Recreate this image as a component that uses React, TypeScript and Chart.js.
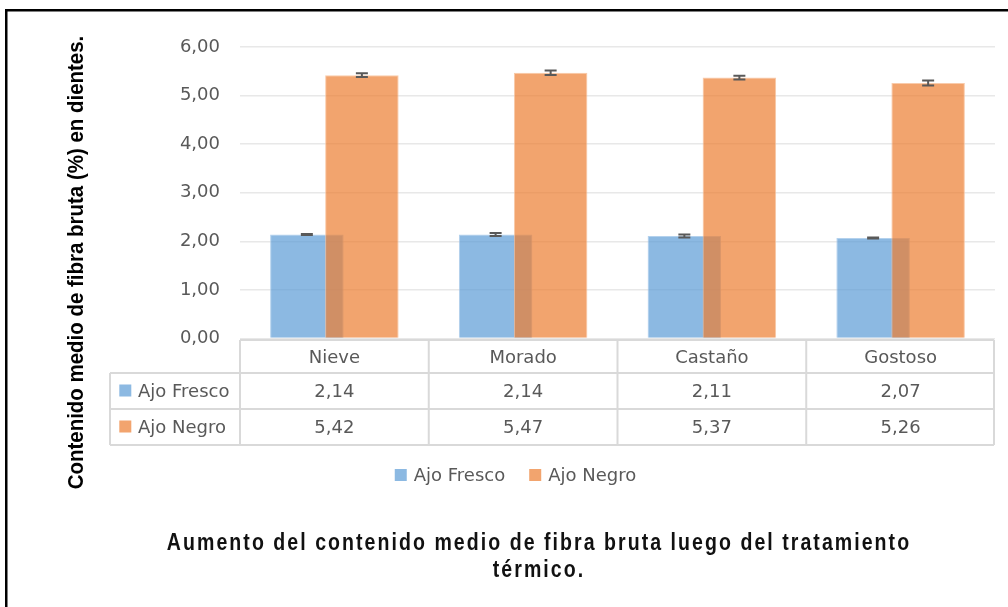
import React, { useEffect, useRef } from 'react';
import { Chart, registerables } from 'chart.js';

Chart.register(...registerables);

// ---------- data ----------
const categories = ['Nieve', 'Morado', 'Castaño', 'Gostoso'];
const seriesNames = ['Ajo Fresco', 'Ajo Negro'];
const ajoFresco = [2.14, 2.14, 2.11, 2.07];
const ajoNegro = [5.42, 5.47, 5.37, 5.26];
const ajoFrescoErr = [0.01, 0.03, 0.03, 0.01];
const ajoNegroErr = [0.04, 0.045, 0.04, 0.05];
const yMin = 0;
const yMax = 6;
const yStep = 1;
const yAxisTitle = 'Contenido medio de fibra bruta (%) en dientes.';
const chartTitle = ['Aumento del contenido medio de fibra bruta luego del tratamiento', 'térmico.'];

// ---------- styles ----------
const seriesFill = ['rgba(91,155,213,0.7)', 'rgba(237,125,49,0.7)'];
const seriesBorder = ['rgba(160,197,232,0.8)', 'rgba(247,190,150,0.8)'];
const textColor = '#595959';
const gridColor = '#E8E8E8';
const tableLine = '#D9D9D9';
const bodyFont = '18px "DejaVu Sans"';

const fmt = (v: number) => v.toFixed(2).replace('.', ',');

const drawOrderPlugin = {
  id: 'drawOrder',
  beforeDatasetsDraw(chart: any) {
    const meta = chart.getDatasetMeta(0);
    if (meta && !meta.hidden) meta.controller.draw();
  },
  beforeDatasetDraw(_chart: any, args: any) {
    if (args.index === 0) return false;
    return true;
  },
};

const backgroundPlugin = {
  id: 'bgFrame',
  beforeDraw(chart: any) {
    const { ctx, width, height } = chart;
    ctx.save();
    ctx.fillStyle = '#ffffff';
    ctx.fillRect(0, 0, width, height);
    ctx.fillStyle = '#000000';
    ctx.fillRect(5, 9, 2.5, height - 9);
    ctx.fillRect(5, 9, width - 5, 2.5);
    ctx.restore();
  },
};

const errorBarPlugin = {
  id: 'errorBars',
  afterDatasetsDraw(chart: any) {
    const { ctx } = chart;
    const y = chart.scales.y;
    const errs = [ajoFrescoErr, ajoNegroErr];
    ctx.save();
    ctx.strokeStyle = textColor;
    ctx.lineWidth = 2;
    chart.data.datasets.forEach((ds: any, di: number) => {
      const meta = chart.getDatasetMeta(di);
      meta.data.forEach((bar: any, i: number) => {
        const v = ds.data[i];
        const e = errs[di][i];
        const yt = y.getPixelForValue(v + e);
        const yb = y.getPixelForValue(v - e);
        const x = bar.x;
        ctx.beginPath();
        ctx.moveTo(x, yt);
        ctx.lineTo(x, yb);
        ctx.moveTo(x - 6, yt);
        ctx.lineTo(x + 6, yt);
        ctx.moveTo(x - 6, yb);
        ctx.lineTo(x + 6, yb);
        ctx.stroke();
      });
    });
    ctx.restore();
  },
};

const tablePlugin = {
  id: 'dataTable',
  afterDraw(chart: any) {
    const { ctx, chartArea: ca } = chart;
    const xs = chart.scales.x;
    const n = categories.length;
    const colW = (ca.right - ca.left) / n;
    const top = ca.bottom + 1.5;
    const r1 = top + 33;
    const r2 = r1 + 36;
    const r3 = r2 + 36;
    const leftCol = ca.left - 130;
    const right = ca.right - 1;

    ctx.save();
    ctx.strokeStyle = tableLine;
    ctx.lineWidth = 2;
    ctx.beginPath();
    ctx.moveTo(ca.left, top);
    ctx.lineTo(right, top);
    [r1, r2, r3].forEach((yy) => {
      ctx.moveTo(leftCol, yy);
      ctx.lineTo(right, yy);
    });
    ctx.moveTo(leftCol, r1);
    ctx.lineTo(leftCol, r3);
    for (let i = 0; i <= n; i++) {
      const xx = i === n ? right : ca.left + colW * i;
      ctx.moveTo(xx, top);
      ctx.lineTo(xx, r3);
    }
    ctx.stroke();

    ctx.font = bodyFont;
    ctx.fillStyle = textColor;
    ctx.textAlign = 'center';
    ctx.textBaseline = 'alphabetic';
    categories.forEach((c, i) => {
      const cx = xs.getPixelForValue(i);
      ctx.fillText(c, cx, top + 22.7);
      ctx.fillText(fmt(ajoFresco[i]), cx, r1 + 23.5);
      ctx.fillText(fmt(ajoNegro[i]), cx, r2 + 24);
    });

    ctx.textAlign = 'left';
    [r1, r2].forEach((ry, si) => {
      ctx.fillStyle = seriesFill[si];
      ctx.fillRect(leftCol + 9.3, ry + 11.5, 12, 12);
      ctx.fillStyle = textColor;
      ctx.fillText(seriesNames[si], leftCol + 28, ry + (si === 0 ? 23.5 : 24));
    });

    // bottom legend
    const gapBoxText = 7;
    const gapItems = 24;
    const box = 12;
    const widths = seriesNames.map((s) => box + gapBoxText + ctx.measureText(s).width);
    const total = widths[0] + gapItems + widths[1];
    let lx = 515.5 - total / 2;
    const ly = 480.5;
    seriesNames.forEach((s, si) => {
      ctx.fillStyle = seriesFill[si];
      ctx.fillRect(lx, ly - 11.5, box, box);
      ctx.fillStyle = textColor;
      ctx.fillText(s, lx + box + gapBoxText, ly);
      lx += widths[si] + gapItems;
    });

    // y axis title
    ctx.save();
    ctx.translate(76.5, 262.5);
    ctx.rotate(-Math.PI / 2);
    ctx.scale(0.93, 1);
    ctx.font = 'bold 22px "Liberation Sans"';
    ctx.fillStyle = '#000000';
    ctx.textAlign = 'center';
    ctx.textBaseline = 'middle';
    ctx.fillText(yAxisTitle, 0, 0);
    ctx.restore();

    // chart title (bottom)
    ctx.save();
    ctx.font = 'bold 23px "Liberation Sans"';
    ctx.fillStyle = '#111111';
    ctx.textAlign = 'center';
    ctx.textBaseline = 'middle';
    (ctx as any).letterSpacing = '2.4px';
    chartTitle.forEach((line, li) => {
      ctx.save();
      ctx.translate(539, 544 + li * 26.5);
      ctx.scale(0.85, 1);
      ctx.fillText(line, 0, 0);
      ctx.restore();
    });
    ctx.restore();

    ctx.restore();
  },
};

export default function App() {
  const ref = useRef<HTMLCanvasElement>(null);

  useEffect(() => {
    if (!ref.current) return;
    const chart = new Chart(ref.current, {
      type: 'bar',
      data: {
        labels: categories,
        datasets: [
          {
            label: seriesNames[0],
            data: ajoFresco,
            backgroundColor: seriesFill[0],
            borderColor: seriesBorder[0],
            borderWidth: 1,
          },
          {
            label: seriesNames[1],
            data: ajoNegro,
            backgroundColor: seriesFill[1],
            borderColor: seriesBorder[1],
            borderWidth: 1,
          },
        ],
      },
      options: {
        responsive: false,
        animation: false,
        events: [],
        layout: { padding: { top: 47, right: 13, left: 0, bottom: 0 } },
        datasets: {
          bar: { categoryPercentage: 0.583, barPercentage: 1.336 },
        },
        plugins: {
          legend: { display: false },
          title: { display: false },
          tooltip: { enabled: false },
        },
        scales: {
          x: {
            ticks: { display: false },
            grid: { display: false },
            border: { display: false },
            afterFit: (s: any) => {
              s.height = 607 - 338.5;
            },
          },
          y: {
            min: yMin,
            max: yMax,
            afterFit: (s: any) => {
              s.width = 240;
            },
            ticks: {
              stepSize: yStep,
              padding: 20,
              color: textColor,
              font: { family: 'DejaVu Sans', size: 18 },
              callback: (v: any) => fmt(Number(v)),
            },
            grid: { color: gridColor, lineWidth: 1.5, drawTicks: false },
            border: { display: false },
          },
        },
      },
      plugins: [backgroundPlugin, drawOrderPlugin, errorBarPlugin, tablePlugin],
    });
    return () => chart.destroy();
  }, []);

  return (
    <div style={{ position: 'absolute', left: 0, top: 0, width: 1008, height: 607, background: '#fff' }}>
      <canvas ref={ref} width={1008} height={607} style={{ display: 'block', width: 1008, height: 607 }} />
    </div>
  );
}
